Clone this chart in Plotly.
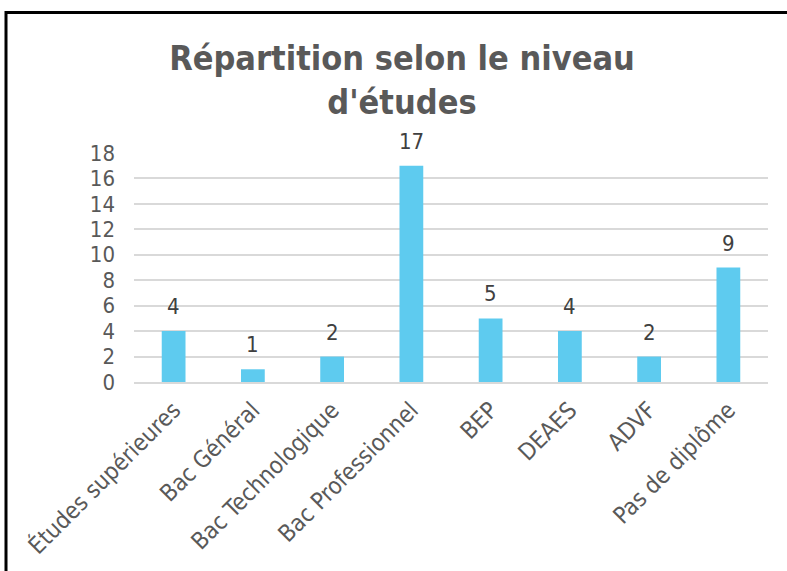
import plotly.graph_objects as go

categories = ["Études supérieures", "Bac Général", "Bac Technologique", "Bac Professionnel",
              "BEP", "DEAES", "ADVF", "Pas de diplôme"]
values = [4, 1, 2, 17, 5, 4, 2, 9]
tick_vals = [0, 2, 4, 6, 8, 10, 12, 14, 16, 18]

W, H = 787, 571
L, R, T, B = 134, 19, 153, 189
pw, ph = W - L - R, H - T - B
FONT = "DejaVu Sans Condensed"

def px_x(x):
    return (x - L) / pw

def px_y(y):
    return (H - B - y) / ph

fig = go.Figure(go.Bar(
    x=categories, y=values,
    marker=dict(color="#5ECBEF", line=dict(width=0)),
    hoverinfo="x+y",
))

for c, v in zip(categories, values):
    fig.add_annotation(x=c, y=v, text=str(v), showarrow=False, yanchor="bottom",
                       yshift=10, font=dict(size=22, color="#404040", family=FONT))

fig.update_layout(
    width=W, height=H,
    margin=dict(l=L, r=R, t=T, b=B),
    paper_bgcolor="white", plot_bgcolor="white",
    bargap=0.7,
    showlegend=False,
    title=dict(text="<b>Répartition selon le niveau<br>d'études</b>",
               x=402 / W, xref="container", xanchor="center",
               y=1 - 70 / H, yanchor="top",
               font=dict(size=34, color="#595959", family=FONT)),
    xaxis=dict(tickangle=-45, tickfont=dict(size=23.5, color="#595959", family=FONT),
               showgrid=False, showline=True, linecolor="#D9D9D9", linewidth=2,
               ticks="", ticklabelstandoff=3),
    yaxis=dict(range=[0, 18], tickvals=tick_vals, showgrid=True, gridcolor="#D9D9D9", gridwidth=2,
               zeroline=False, ticks="", ticklabelstandoff=18,
               tickfont=dict(size=22, color="#595959", family=FONT)),
    shapes=[dict(type="rect", xref="paper", yref="paper",
                 x0=px_x(6), x1=px_x(800), y0=px_y(590), y1=px_y(12.5),
                 line=dict(color="black", width=3), layer="above")],
)

fig.write_html("out.html", config={"displayModeBar": False},
               post_script="document.body.style.margin='0';")
